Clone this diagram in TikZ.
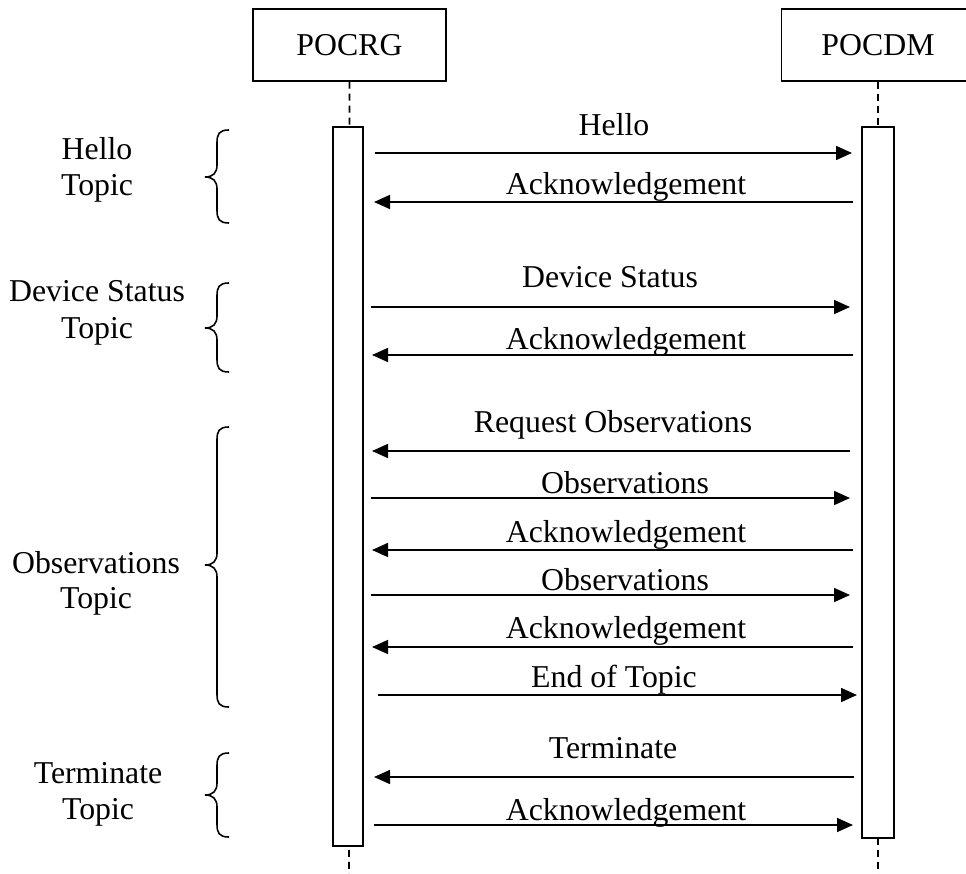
\documentclass[tikz,border=0pt]{standalone}
\usepackage{fontspec}
\setmainfont{Liberation Serif}
\usetikzlibrary{arrows.meta}
\begin{document}
\begin{tikzpicture}[x=1pt,y=-1pt,
  txt/.style={font=\fontsize{31.8}{36}\selectfont, inner sep=0pt, anchor=base},
  actor/.style={draw, line width=1.5pt, fill=white, minimum width=193pt, minimum height=72pt, inner sep=0pt, font=\fontsize{31.8}{36}\selectfont},
  life/.style={line width=1.8pt, dash pattern=on 7pt off 5pt},
  bar/.style={draw, line width=1.5pt, fill=white, inner sep=0pt},
  msg/.style={line width=1.6pt, -{Triangle[length=16pt,width=14pt]}},
  brc/.style={line width=1.6pt}]
\useasboundingbox (0,0) rectangle (966,874);
\clip (0,0) rectangle (966,874);

% actors
\node[actor] (rg) at (349.5,45) {POCRG};
\node[actor] (dm) at (878,45) {POCDM};
\coordinate (rgend) at (349,874);
\coordinate (dmend) at (878,874);
\draw[life] (rg.south) -- (rgend);
\draw[life] (dm.south) -- (dmend);

% activation bars
\node[bar, minimum width=30pt, minimum height=719pt] (rgbar) at (348,486.5) {};
\node[bar, minimum width=32pt, minimum height=711pt] (dmbar) at (878,482.5) {};

% message end points
\coordinate (m1a) at (375,153); \coordinate (m1b) at (852,153);
\coordinate (m2a) at (853,202); \coordinate (m2b) at (374,202);
\coordinate (m3a) at (371,307); \coordinate (m3b) at (850,307);
\coordinate (m4a) at (853,355); \coordinate (m4b) at (372,355);
\coordinate (m5a) at (850,451); \coordinate (m5b) at (372,451);
\coordinate (m6a) at (371,498); \coordinate (m6b) at (850,498);
\coordinate (m7a) at (853,550); \coordinate (m7b) at (372,550);
\coordinate (m8a) at (371,595); \coordinate (m8b) at (850,595);
\coordinate (m9a) at (853,647); \coordinate (m9b) at (372,647);
\coordinate (m10a) at (378,695); \coordinate (m10b) at (857,695);
\coordinate (m11a) at (854,777); \coordinate (m11b) at (374,777);
\coordinate (m12a) at (374,825); \coordinate (m12b) at (853,825);

\foreach \i in {1,...,12} \draw[msg] (m\i a) -- (m\i b);

% message labels
\node[txt] (l1) at (614,136) {Hello};
\node[txt] (l2) at (626,195) {Acknowledgement};
\node[txt] (l3) at (610,288) {Device Status};
\node[txt] (l4) at (626,349) {Acknowledgement};
\node[txt] (l5) at (613,432) {Request Observations};
\node[txt] (l6) at (625,493) {Observations};
\node[txt] (l7) at (626,542) {Acknowledgement};
\node[txt] (l8) at (625,590) {Observations};
\node[txt] (l9) at (626,638) {Acknowledgement};
\node[txt] (l10) at (614,687) {End of Topic};
\node[txt] (l11) at (613,758) {Terminate};
\node[txt] (l12) at (626,820) {Acknowledgement};

% topic labels
\node[txt] (t1a) at (97,160) {Hello};
\node[txt] (t1b) at (97,196) {Topic};
\node[txt] (t2a) at (97,302) {Device Status};
\node[txt] (t2b) at (97,338) {Topic};
\node[txt] (t3a) at (96,573) {Observations};
\node[txt] (t3b) at (96,608) {Topic};
\node[txt] (t4a) at (98,783) {Terminate};
\node[txt] (t4b) at (98,819) {Topic};

% braces
\foreach \top/\tip/\bot in {130/177/223, 283/328/372, 427/565/707, 753/795/837}{
  \draw[brc] (229,\top) .. controls (219,\top) and (217,\top+4) .. (217,\top+13)
    -- (217,\tip-12) .. controls (217,\tip-4) and (213,\tip) .. (205,\tip)
    .. controls (213,\tip) and (217,\tip+4) .. (217,\tip+12)
    -- (217,\bot-13) .. controls (217,\bot-4) and (219,\bot) .. (229,\bot);
}
\end{tikzpicture}
\end{document}
